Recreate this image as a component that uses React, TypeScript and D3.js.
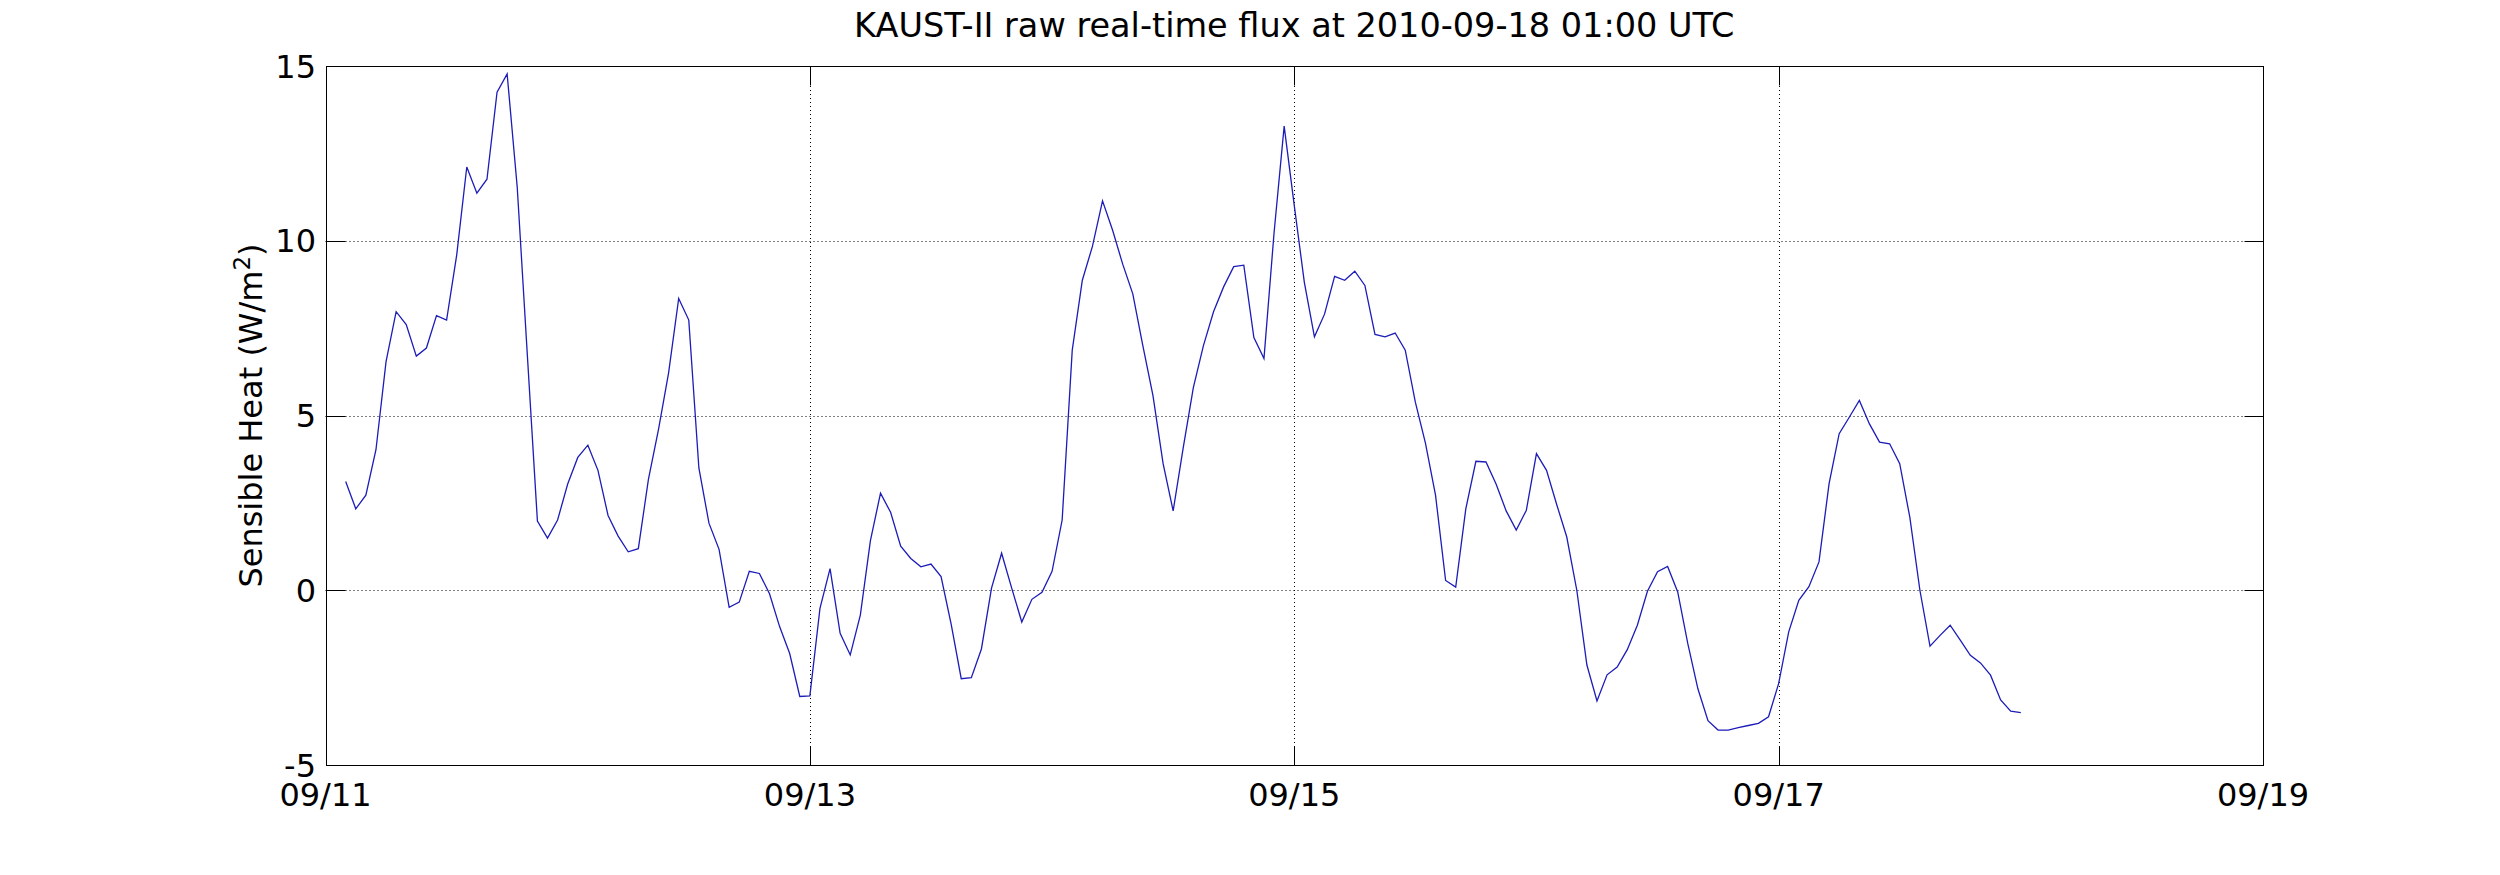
import React, { useEffect, useRef } from "react";
import * as d3 from "d3";

// Hourly sensible heat flux (W/m^2), starting 2010-09-11 02:00 UTC
const startTime = "2010-09-11T02:00:00Z";
const sensibleHeat: number[] = [
  3.11, 2.33, 2.72, 4.02, 6.54, 7.97, 7.6, 6.7, 6.93, 7.86,
  7.73, 9.59, 12.11, 11.36, 11.76, 14.25, 14.77, 11.53, 6.74, 1.98,
  1.49, 2.01, 3.04, 3.8, 4.15, 3.43, 2.14, 1.55, 1.1, 1.19,
  3.17, 4.6, 6.22, 8.35, 7.73, 3.5, 1.92, 1.17, -0.49, -0.34,
  0.54, 0.48, -0.1, -1.04, -1.81, -3.04, -3.02, -0.52, 0.62, -1.23,
  -1.85, -0.71, 1.42, 2.78, 2.23, 1.26, 0.91, 0.67, 0.75, 0.39,
  -0.97, -2.53, -2.5, -1.68, 0.06, 1.06, 0.06, -0.91, -0.26, -0.06,
  0.54, 2.01, 6.87, 8.87, 9.84, 11.14, 10.3, 9.33, 8.48, 6.99,
  5.57, 3.63, 2.27, 4.08, 5.8, 7.0, 7.97, 8.68, 9.26, 9.3,
  7.23, 6.63, 10.23, 13.28, 11.01, 8.81, 7.25, 7.9, 8.98, 8.87,
  9.13, 8.72, 7.32, 7.25, 7.36, 6.87, 5.38, 4.21, 2.72, 0.28,
  0.09, 2.33, 3.69, 3.67, 3.04, 2.27, 1.72, 2.29, 3.91, 3.43,
  2.46, 1.53, 0.0, -2.14, -3.17, -2.42, -2.2, -1.7, -1.0, -0.03,
  0.53, 0.68, -0.05, -1.53, -2.82, -3.73, -4.0, -4.0, -3.93, -3.87,
  -3.81, -3.62, -2.67, -1.19, -0.29, 0.1, 0.81, 3.05, 4.48, 4.95,
  5.43, 4.76, 4.24, 4.19, 3.62, 2.09, 0.0, -1.6, -1.29, -1.0,
  -1.43, -1.86, -2.08, -2.43, -3.14, -3.46, -3.5,
];

const xDomain = ["2010-09-11T00:00:00Z", "2010-09-19T00:00:00Z"];
const xTickDates = [
  "2010-09-11T00:00:00Z",
  "2010-09-13T00:00:00Z",
  "2010-09-15T00:00:00Z",
  "2010-09-17T00:00:00Z",
  "2010-09-19T00:00:00Z",
];
const yDomain = [-5, 15];
const yTicks = [-5, 0, 5, 10, 15];

const titleText = "KAUST-II raw real-time flux at 2010-09-18 01:00 UTC";

const W = 2500;
const H = 875;
const M = { left: 325.5, right: 2263, top: 66, bottom: 765 };
const FONT = "'DejaVu Sans', sans-serif";

export default function App() {
  const ref = useRef<SVGSVGElement | null>(null);

  useEffect(() => {
    const svg = d3.select(ref.current);
    svg.selectAll("*").remove();

    const t0 = new Date(startTime).getTime();
    const data = sensibleHeat.map((v, i) => ({
      t: new Date(t0 + i * 3600 * 1000),
      v,
    }));

    const x = d3
      .scaleUtc()
      .domain(xDomain.map((d) => new Date(d)))
      .range([M.left, M.right]);
    const y = d3.scaleLinear().domain(yDomain).range([M.bottom, M.top]);

    const g = svg.append("g");

    // Grid lines (dotted)
    const xT = xTickDates.map((d) => new Date(d));
    g.selectAll(".vgrid")
      .data(xT.slice(1, -1))
      .join("line")
      .attr("x1", (d) => Math.round(x(d)) + 0.5)
      .attr("x2", (d) => Math.round(x(d)) + 0.5)
      .attr("y1", M.top)
      .attr("y2", M.bottom)
      .attr("stroke", "#000")
      .attr("stroke-width", 1)
      .attr("stroke-dasharray", "1,3");
    g.selectAll(".hgrid")
      .data(yTicks.slice(1, -1))
      .join("line")
      .attr("x1", M.left)
      .attr("x2", M.right)
      .attr("y1", (d) => Math.round(y(d)) + 0.5)
      .attr("y2", (d) => Math.round(y(d)) + 0.5)
      .attr("stroke", "#000")
      .attr("stroke-width", 1)
      .attr("stroke-dasharray", "1,3");

    // Data line
    const line = d3
      .line<{ t: Date; v: number }>()
      .x((d) => x(d.t))
      .y((d) => y(d.v));
    g.append("path")
      .datum(data)
      .attr("d", line)
      .attr("fill", "none")
      .attr("stroke", "#1c1cb8")
      .attr("stroke-width", 1.3);

    // Axes box
    const L = Math.round(M.left) + 0.5;
    const R = Math.round(M.right) + 0.5;
    const T = Math.round(M.top) + 0.5;
    const B = Math.round(M.bottom) + 0.5;
    g.append("rect")
      .attr("x", L)
      .attr("y", T)
      .attr("width", R - L)
      .attr("height", B - T)
      .attr("fill", "none")
      .attr("stroke", "#000")
      .attr("stroke-width", 1);

    const tickLen = 19;
    // x ticks (bottom & top, inward)
    xT.forEach((d) => {
      const xx = Math.round(x(d)) + 0.5;
      g.append("line").attr("x1", xx).attr("x2", xx).attr("y1", B).attr("y2", B - tickLen).attr("stroke", "#000");
      g.append("line").attr("x1", xx).attr("x2", xx).attr("y1", T).attr("y2", T + tickLen).attr("stroke", "#000");
    });
    // y ticks (left & right, inward)
    yTicks.forEach((d) => {
      const yy = Math.round(y(d)) + 0.5;
      g.append("line").attr("x1", L).attr("x2", L + tickLen).attr("y1", yy).attr("y2", yy).attr("stroke", "#000");
      g.append("line").attr("x1", R).attr("x2", R - tickLen).attr("y1", yy).attr("y2", yy).attr("stroke", "#000");
    });

    const fmt = d3.utcFormat("%m/%d");
    g.selectAll(".xlab")
      .data(xT)
      .join("text")
      .attr("x", (d) => x(d))
      .attr("y", 806)
      .attr("text-anchor", "middle")
      .attr("font-family", FONT)
      .attr("font-size", 32)
      .attr("fill", "#000")
      .text((d) => fmt(d));

    g.selectAll(".ylab")
      .data(yTicks)
      .join("text")
      .attr("x", 316)
      .attr("y", (d) => y(d) + 11.5)
      .attr("text-anchor", "end")
      .attr("font-family", FONT)
      .attr("font-size", 32)
      .attr("fill", "#000")
      .text((d) => String(d));

    // Title
    g.append("text")
      .attr("x", (M.left + M.right) / 2)
      .attr("y", 37)
      .attr("text-anchor", "middle")
      .attr("font-family", FONT)
      .attr("font-size", 33.5)
      .attr("fill", "#000")
      .text(titleText);

    // Y label
    const yl = g
      .append("text")
      .attr("transform", `translate(262,${(M.top + M.bottom) / 2}) rotate(-90)`)
      .attr("text-anchor", "middle")
      .attr("font-family", FONT)
      .attr("font-size", 32)
      .attr("fill", "#000");
    yl.append("tspan").text("Sensible Heat (W/m");
    yl.append("tspan").attr("dy", -12).attr("font-size", 23).text("2");
    yl.append("tspan").attr("dy", 12).text(")");
  }, []);

  return (
    <svg
      ref={ref}
      width={W}
      height={H}
      style={{ position: "absolute", left: 0, top: 0, background: "#fff" }}
    />
  );
}
